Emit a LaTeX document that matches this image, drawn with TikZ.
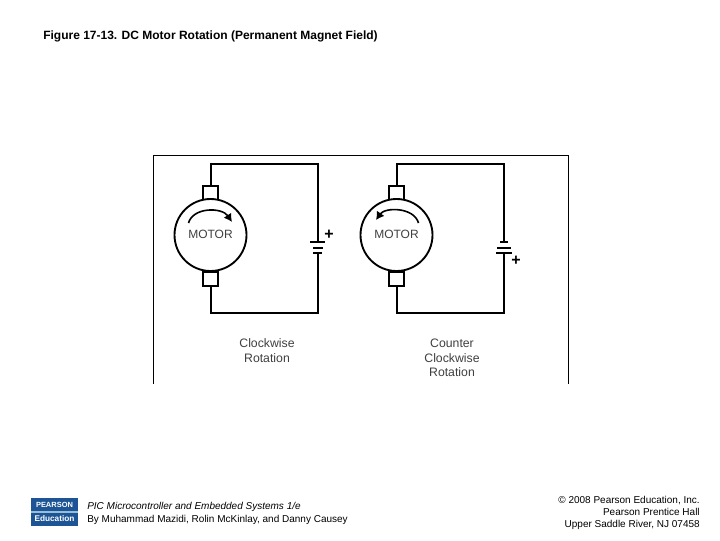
\documentclass[tikz,border=0pt]{standalone}
\usepackage{fontspec}
\setmainfont{Liberation Sans}
\usetikzlibrary{arrows.meta}
\definecolor{logoblue}{RGB}{28,84,150}
\definecolor{logolight}{RGB}{150,190,215}
\tikzset{
 x=0.75pt,y=-0.75pt,
 wire/.style={line width=1.5pt,line join=miter},
 frameline/.style={line width=0.7pt},
 label/.style={font=\fontsize{8.4}{10}\selectfont,inner sep=0,text=black},
 diag/.style={font=\fontsize{9}{10.5}\selectfont,inner sep=0,text=black!75,align=center},
 brush/.style={draw,line width=1.5pt,fill=white,minimum width=11pt,minimum height=10.5pt,inner sep=0},
 motorbody/.style={draw,circle,line width=1.4pt,fill=white,minimum size=54pt,inner sep=0},
 rotarrow/.style={line width=1.2pt,-{Latex[length=6pt,width=7pt]}},
 plusmark/.style={font=\bfseries\fontsize{12}{12}\selectfont,inner sep=0},
}
\begin{document}
\begin{tikzpicture}
\useasboundingbox (0,0) rectangle (720,540);
\fill[white] (0,0) rectangle (720,540);
\node[label,anchor=west,font=\fontsize{9}{10}\bfseries\selectfont] (title) at (43,36) {Figure 17-13. DC Motor Rotation (Permanent Magnet Field)};
\coordinate (fa) at (153,384); \coordinate (fb) at (153,155); \coordinate (fc) at (568,155); \coordinate (fd) at (568,384);
\draw[frameline] (fa) -- (fb) -- (fc) -- (fd);
% left motor
\coordinate (c1) at (318,164);
\coordinate (d1) at (318,313);
\node[brush] (bt1) at (210.5,193) {};
\node[brush] (bb1) at (210.5,279) {};
\node[motorbody] (m1) at (210.5,235) {};
\node[diag] (mt1) at (210.5,234) {MOTOR};
\coordinate (b1t) at (318,242); \coordinate (b1b) at (318,253);
\draw[wire] (bt1.north) -- (bt1.north |- c1) -- (c1) -- (b1t);
\draw[wire] (bb1.south) -- (bb1.south |- d1) -- (d1) -- (b1b);
\draw[wire] (310,242) -- (325,242) (313,248) -- (323,248) (313,253) -- (322,253);
\node[plusmark] (p1) at (329,235) {+};
\coordinate (a1s) at (188.5,223); \coordinate (a1e) at (232,222);
\draw[rotarrow] (a1s) .. controls (193,207) and (222,207) .. (a1e);
% right motor
\coordinate (c3) at (504,164);
\coordinate (d3) at (504,313);
\node[brush] (bt2) at (396.5,193) {};
\node[brush] (bb2) at (396.5,279) {};
\node[motorbody] (m2) at (396.5,235) {};
\node[diag] (mt2) at (396.5,234) {MOTOR};
\coordinate (b2t) at (504,242); \coordinate (b2b) at (504,253);
\draw[wire] (bt2.north) -- (bt2.north |- c3) -- (c3) -- (b2t);
\draw[wire] (bb2.south) -- (bb2.south |- d3) -- (d3) -- (b2b);
\draw[wire] (500,242) -- (508,242) (497,248) -- (511,248) (496,253) -- (512,253);
\node[plusmark] (p2) at (516,261) {+};
\coordinate (a2s) at (418.5,223); \coordinate (a2e) at (376,220);
\draw[rotarrow] (a2s) .. controls (414,207) and (385,207) .. (a2e);
% captions
\node[diag,font=\fontsize{9.2}{10.8}\selectfont] (cw) at (267,350.5) {Clockwise\\Rotation};
\node[diag,font=\fontsize{9.2}{10.8}\selectfont] (ccw) at (452,358) {Counter\\Clockwise\\Rotation};
% footer
\node[fill=logoblue,minimum width=35.25pt,minimum height=21pt,inner sep=0] (logo) at (54.5,512) {};
\fill[logolight] (31,511) rectangle (78,512.5);
\node[inner sep=0,text=white,font=\bfseries\fontsize{5.6}{6}\selectfont] (lg1) at (54.5,504.5) {PEARSON};
\node[inner sep=0,text=white,font=\bfseries\fontsize{6.2}{6.5}\selectfont] (lg2) at (54.5,519) {Education};
\node[label,anchor=west,font=\fontsize{7.5}{9}\itshape\selectfont] (f1) at (87,507) {PIC Microcontroller and Embedded Systems 1/e};
\node[label,anchor=west,font=\fontsize{7.5}{9}\selectfont] (f2) at (87,519.5) {By Muhammad Mazidi, Rolin McKinlay, and Danny Causey};
\node[label,anchor=north east,align=right,font=\fontsize{7.5}{9.2}\selectfont] (f3) at (700,495.5) {© 2008 Pearson Education, Inc.\\Pearson Prentice Hall\\Upper Saddle River, NJ 07458};
\end{tikzpicture}
\end{document}
